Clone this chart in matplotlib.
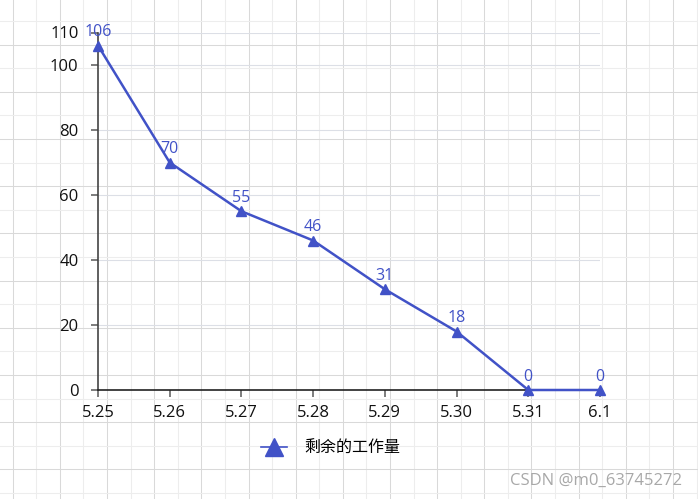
import numpy as np
import matplotlib
matplotlib.use("Agg")
import matplotlib.pyplot as plt
from matplotlib.lines import Line2D

plt.rcParams['font.family'] = ['Open Sans', 'Noto Sans CJK SC', 'DejaVu Sans']

# data
dates = ['5.25', '5.26', '5.27', '5.28', '5.29', '5.30', '5.31', '6.1']
remaining = [106, 70, 55, 46, 31, 18, 0, 0]
series_name = '剩余的工作量'
y_ticks = [0, 20, 40, 60, 80, 100, 110]

blue = '#4152c7'

fig = plt.figure(figsize=(6.98, 4.99), dpi=100)

# graph-paper background of the page
bg = fig.add_axes([0, 0, 1, 1], zorder=0)
bg.set_xlim(0, 698)
bg.set_ylim(499, 0)
bg.axis('off')
for k, x in enumerate(np.arange(12.7, 698, 23.58)):
    bg.axvline(x, color='#d9d9d9' if k % 2 == 0 else '#ededed', lw=0.75)
for k, y in enumerate(np.arange(21, 499, 23.6)):
    bg.axhline(y, color='#d9d9d9' if k % 2 == 1 else '#ededed', lw=0.75)

ax = fig.add_axes([98 / 698, 1 - 390 / 499, 502 / 698, 357.5 / 499], zorder=1)
ax.patch.set_alpha(0)

x = np.arange(len(dates))
ax.plot(x, remaining, color=blue, lw=1.8, marker='^', markersize=7, clip_on=False, zorder=3)
for xi, v in zip(x, remaining):
    ax.annotate(str(v), (xi, v), xytext=(0, 9.5), textcoords='offset points',
                ha='center', va='center', color=blue, fontsize=11.5)

ax.set_xlim(0, len(dates) - 1)
ax.set_ylim(0, 110)
ax.set_xticks(x)
ax.set_xticklabels(dates)
ax.set_yticks(y_ticks)
ax.grid(axis='y', color='#dcdfe6', lw=0.8)
ax.set_axisbelow(True)

for s in ['top', 'right']:
    ax.spines[s].set_visible(False)
ax.spines['left'].set_color('#444444')
ax.spines['bottom'].set_color('#222222')
ax.spines['left'].set_linewidth(1.2)
ax.spines['bottom'].set_linewidth(1.2)
ax.tick_params(axis='both', length=5, width=1.2, color='#666666', labelsize=12, labelcolor='#111111')
ax.tick_params(axis='x', pad=6)
ax.tick_params(axis='y', pad=9)

handle = Line2D([], [], color=blue, lw=1.2, marker='^', markersize=13)
fig.legend([handle], [series_name], loc='center', bbox_to_anchor=(331 / 698, 50 / 499),
           frameon=False, fontsize=11.5, handlelength=1.6, handletextpad=1.1)

fig.text(682 / 698, 18 / 499, 'CSDN @m0_63745272', ha='right', va='center',
         color='#a8a8a8', fontsize=12)

fig.savefig('out.png', dpi=100)
